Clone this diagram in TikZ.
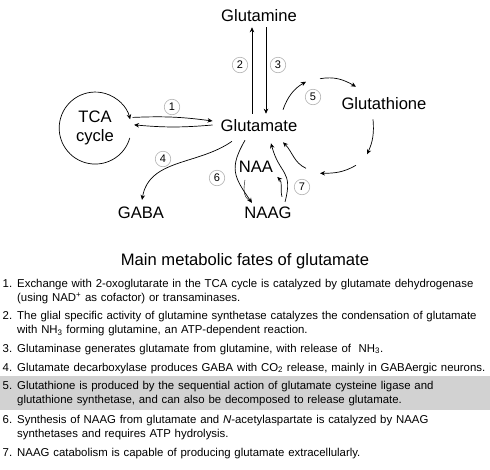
\documentclass[tikz,border=0pt]{standalone}
\usepackage{fontspec}
\setmainfont{Liberation Sans}
\usepackage{tikz}
\usetikzlibrary{arrows.meta, positioning}

\begin{document}
\begin{tikzpicture}[
    x=1pt, y=1pt,
    metab/.style={inner sep=2pt, font=\fontsize{16.6}{19}\selectfont},
    stepnum/.style={circle, draw=gray!60, line width=0.6pt, inner sep=0pt, minimum size=15.5pt, font=\fontsize{11}{12}\selectfont},
    arr/.style={-{Stealth[length=5pt,width=4.5pt]}, line width=0.7pt},
    numtext/.style={anchor=base west, inner sep=0pt, font=\fontsize{11.4}{14}\selectfont},
    itemtext/.style={anchor=base west, inner sep=0pt, align=left, text width=480pt, font=\fontsize{11.4}{14.4}\selectfont},
]
\useasboundingbox (0,0) rectangle (490,-469);

% diagram
\node[metab] (gln) at (259,-16) {Glutamine};
\node[metab] (glu) at (259,-126) {Glutamate};
\node[metab] (gsh) at (384,-104) {Glutathione};
\node[metab] (gaba) at (141,-213) {GABA};
\node[metab] (naag) at (268,-213) {NAAG};
\node[metab] (naa) at (256,-167) {NAA};
\node[metab, circle, minimum size=72pt, inner sep=0pt, align=center] (tca) at (95,-128) {TCA\\cycle};

\node[stepnum] (s1) at (172,-107) {1};
\node[stepnum] (s2) at (240,-65) {2};
\node[stepnum] (s3) at (278,-65) {3};
\node[stepnum] (s4) at (163,-159) {4};
\node[stepnum] (s5) at (313,-97) {5};
\node[stepnum] (s6) at (217,-178) {6};
\node[stepnum] (s7) at (302,-187) {7};

% TCA cycle and exchange
\draw[arr] (tca.-16) arc[start angle=-16, end angle=-346, radius=36pt];
\draw[arr] ([xshift=3pt]tca.17) to[bend left=5] ([shift={(-6pt,5pt)}]glu.west);
\draw[arr] ([shift={(-6pt,1pt)}]glu.west) to[bend left=5] ([xshift=3pt]tca.5);

% glutamine
\draw[arr] ([shift={(-7pt,4pt)}]glu.north) -- ([shift={(-7pt,-3pt)}]gln.south);
\draw[arr] ([shift={(7pt,-3pt)}]gln.south) -- ([shift={(7pt,4pt)}]glu.north);

% GABA
\draw[arr] ([shift={(-27pt,-7pt)}]glu.south) to[out=-145,in=80] ([shift={(1pt,5pt)}]gaba.north);

% glutathione
\draw[arr] ([shift={(24pt,8pt)}]glu.north) to[out=70,in=-150] ([shift={(-78pt,14pt)}]gsh.north);
\draw[arr] ([shift={(-64pt,17pt)}]gsh.north) to[out=10,in=150] ([shift={(-28pt,9pt)}]gsh.north);
\draw[arr] ([shift={(-11pt,-7pt)}]gsh.south) to[out=-85,in=65] ([shift={(-17pt,-42pt)}]gsh.south);
\draw[arr] ([shift={(-28pt,-53pt)}]gsh.south) to[out=-150,in=0] ([shift={(-64pt,-61pt)}]gsh.south);
\draw[arr] ([shift={(-78pt,-56pt)}]gsh.south) to[out=155,in=-45] ([shift={(24pt,-8pt)}]glu.south);

% NAAG
\draw[arr] ([shift={(-14pt,-6pt)}]glu.south) to[out=-120,in=125, looseness=1.3] ([shift={(-16pt,2pt)}]naag.north);
\draw ([shift={(-11pt,-5pt)}]naa.south) to[out=-100,in=150] ([shift={(-18pt,4pt)}]naag.north);
\draw[arr] ([shift={(17pt,3pt)}]naag.north) to[out=75,in=-75, looseness=1.4] ([shift={(12pt,-9pt)}]glu.south);
\draw[arr] ([shift={(14pt,8pt)}]naag.north) to[out=105,in=-45] ([shift={(2pt,-2pt)}]naa.south east);

% caption
\fill[gray!35] (0,-376) rectangle (490,-410);
\node[metab] (title) at (245,-261.5) {Main metabolic fates of glutamate};

\node[numtext] (n1) at (2.5,-287) {1.};
\node[itemtext] (t1) at (17,-287) {Exchange with 2-oxoglutarate in the TCA cycle is catalyzed by glutamate dehydrogenase\\(using NAD\textsuperscript{+} as cofactor) or transaminases.};
\node[numtext] (n2) at (2.5,-319) {2.};
\node[itemtext] (t2) at (17,-319) {The glial specific activity of glutamine synthetase catalyzes the condensation of glutamate\\with NH\textsubscript{3} forming glutamine, an ATP-dependent reaction.};
\node[numtext] (n3) at (2.5,-352) {3.};
\node[itemtext] (t3) at (17,-352) {Glutaminase generates glutamate from glutamine, with release of \ NH\textsubscript{3}.};
\node[numtext] (n4) at (2.5,-371) {4.};
\node[itemtext] (t4) at (17,-371) {Glutamate decarboxylase produces GABA with CO\textsubscript{2} release, mainly in GABAergic neurons.};
\node[numtext] (n5) at (2.5,-389.5) {5.};
\node[itemtext] (t5) at (17,-389.5) {Glutathione is produced by the sequential action of glutamate cysteine ligase and\\glutathione synthetase, and can also be decomposed to release glutamate.};
\node[numtext] (n6) at (2.5,-423.5) {6.};
\node[itemtext] (t6) at (17,-423.5) {Synthesis of NAAG from glutamate and \textit{N}-acetylaspartate is catalyzed by NAAG\\synthetases and requires ATP hydrolysis.};
\node[numtext] (n7) at (2.5,-456.5) {7.};
\node[itemtext] (t7) at (17,-456.5) {NAAG catabolism is capable of producing glutamate extracellularly.};
\end{tikzpicture}
\end{document}
